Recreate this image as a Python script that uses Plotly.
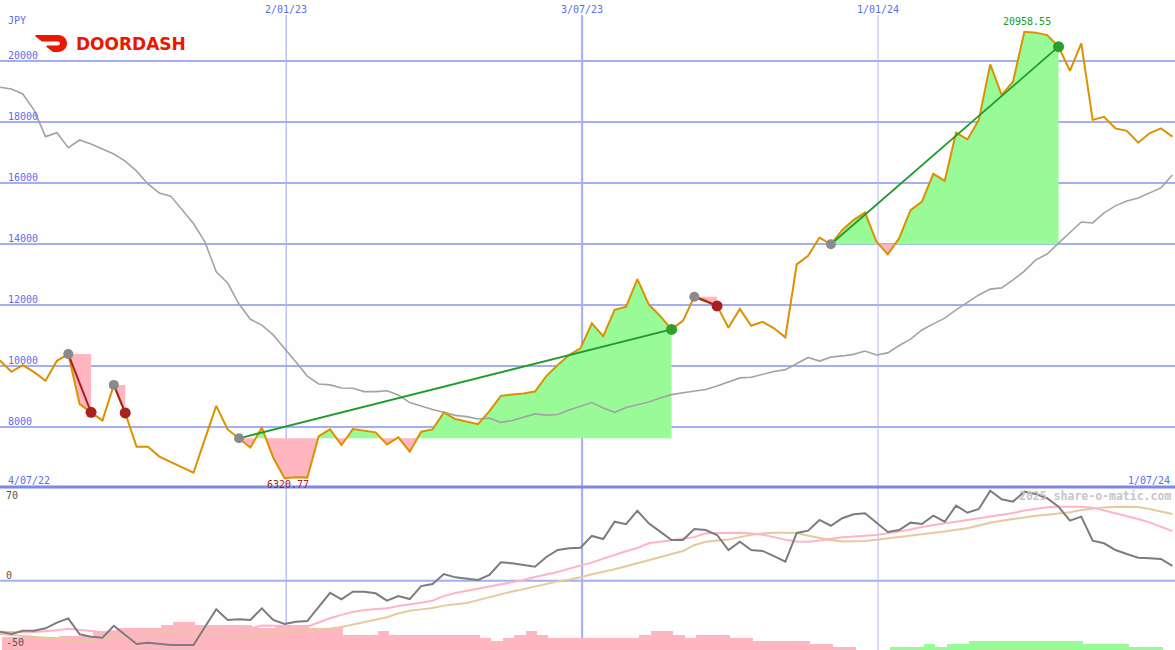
import numpy as np
import pandas as pd
import plotly.graph_objects as go

# ---------------- data ----------------
start_date = "2022-07-10"
n_weeks = 104

price = [
    10180, 9810, 10030, 9800, 9517, 10170, 10390, 8750, 8480, 8210,
    9380, 8460, 7350, 7350, 7030, 6860, 6690, 6500, 7600, 8690,
    7920, 7630, 7330, 7980, 7000, 6320.77, 6350, 6340, 7700, 7920,
    7410, 7930, 7870, 7825, 7430, 7660, 7190, 7845, 7920, 8480,
    8260, 8180, 8090, 8520, 9020, 9065, 9100, 9160, 9670, 10030,
    10360, 10580, 11400, 10980, 11840, 11940, 12850, 12020, 11640, 11200,
    11480, 12270, 12160, 11970, 11255, 11870, 11320, 11450, 11235, 10940,
    13330, 13610, 14210, 13990, 14460, 14790, 15030, 14080, 13660, 14190,
    15110, 15390, 16300, 16070, 17650, 17430, 18070, 19890, 18890, 19320,
    20958.55, 20930, 20850, 20470, 19680, 20580, 18070, 18170, 17790, 17710,
    17320, 17630, 17790, 17520,
]

moving_avg = [
    19140, 19080, 18920, 18390, 17520, 17650, 17160, 17410, 17280, 17110,
    16950, 16720, 16390, 15970, 15670, 15570, 15110, 14670, 14070, 13090,
    12720, 12030, 11530, 11340, 11020, 10590, 10130, 9670, 9410, 9380,
    9280, 9270, 9160, 9160, 9190, 9050, 8800, 8690, 8570, 8480,
    8380, 8340, 8260, 8290, 8150, 8210, 8330, 8430, 8390, 8410,
    8560, 8670, 8800, 8620, 8480, 8640, 8740, 8820, 8950, 9060,
    9120, 9180, 9230, 9340, 9470, 9610, 9630, 9720, 9820, 9880,
    10070, 10280, 10160, 10290, 10330, 10380, 10490, 10360, 10430, 10670,
    10880, 11180, 11380, 11570, 11840, 12100, 12330, 12520, 12560, 12820,
    13110, 13480, 13670, 14030, 14390, 14720, 14690, 15020, 15250, 15410,
    15510, 15670, 15840, 16260,
]

oscillator = [
    -38.1, -39.8, -37.3, -37.3, -35.5, -31.3, -28.1, -40.0, -41.8, -42.5,
    -33.6, -40.5, -47.2, -46.3, -47.2, -48.0, -48.0, -48.0, -34.6, -21.3,
    -29.3, -28.8, -29.3, -20.6, -29.3, -32.3, -30.6, -30.1, -19.6, -9.0,
    -13.9, -8.2, -8.2, -9.4, -14.9, -11.4, -13.7, -4.0, -2.5, 5.0,
    2.5, 1.3, 0.5, 4.3, 13.7, 13.0, 11.7, 10.4, 17.7, 22.9,
    24.2, 24.6, 33.4, 31.1, 44.0, 42.1, 52.2, 42.8, 36.6, 30.4,
    30.4, 38.6, 37.8, 34.1, 22.9, 29.1, 22.9, 22.2, 18.4, 14.2,
    35.6, 37.3, 45.3, 41.0, 46.6, 49.6, 50.3, 43.3, 36.3, 37.8,
    43.3, 42.3, 48.5, 44.0, 56.0, 50.7, 53.5, 67.2, 60.7, 59.0,
    66.4, 64.7, 61.5, 55.2, 44.8, 47.8, 29.9, 27.9, 22.9, 19.9,
    17.2, 16.7, 16.2, 11.0,
]

signal_fast = [
    -38.0, -38.5, -38.5, -38.3, -37.8, -37.0, -35.8, -36.5, -37.5, -38.5,
    -37.8, -38.3, -40.0, -41.2, -42.4, -43.5, -44.4, -45.1, -43.0, -39.6,
    -37.5, -36.0, -35.5, -33.5, -33.5, -34.0, -34.0, -34.3, -31.0, -28.0,
    -25.5, -23.3, -21.8, -21.0, -20.6, -18.9, -17.8, -16.5, -14.9, -11.5,
    -9.2, -7.5, -5.8, -4.2, -2.7, -1.2, 0.5, 2.8, 4.5, 6.5,
    9.0, 11.0, 13.5, 16.5, 19.5, 22.0, 24.4, 27.9, 29.0, 30.0,
    31.0, 32.5, 35.4, 35.4, 35.4, 35.8, 35.2, 34.3, 32.5, 30.5,
    29.2, 29.1, 30.0, 31.2, 32.4, 33.0, 33.6, 34.1, 35.3, 36.6,
    38.2, 40.0, 41.6, 42.8, 44.0, 45.3, 46.5, 47.8, 49.0, 50.5,
    52.3, 53.6, 54.8, 55.2, 55.2, 55.2, 54.5, 52.5, 50.5, 48.5,
    46.0, 43.5, 40.5, 37.0,
]

signal_slow = [
    -39.8, -40.6, -41.4, -42.1, -42.8, -43.4, -44.0, -44.6, -44.8, -43.5,
    -41.8, -40.8, -40.2, -39.9, -39.5, -38.2, -38.6, -39.2, -39.6, -40.2,
    -40.9, -41.2, -41.0, -40.4, -39.8, -39.0, -37.2, -36.7, -36.3, -35.6,
    -34.5, -32.8, -30.6, -29.3, -27.2, -24.4, -22.5, -21.4, -20.4, -18.6,
    -17.6, -16.6, -14.5, -12.2, -10.0, -8.0, -6.3, -4.3, -2.5, -0.5,
    0.8, 2.5, 4.8, 6.5, 8.6, 10.8, 13.0, 15.5, 17.8, 20.0,
    22.2, 26.5, 29.0, 30.0, 30.7, 32.5, 34.3, 35.2, 35.8, 35.8,
    35.5, 33.5, 31.7, 30.3, 29.2, 29.3, 29.7, 30.5, 31.5, 32.4,
    33.4, 34.4, 35.4, 36.7, 38.0, 39.2, 41.2, 43.3, 44.7, 46.0,
    47.5, 48.5, 49.2, 50.0, 51.0, 52.8, 54.0, 54.7, 55.2, 55.2,
    55.0, 53.5, 51.5, 49.7,
]

histogram = [
    -9.7, -9.7, -9.7, -9.7, -9.7, -10.4, -10.4, -10.4, -14.2, -14.2,
    -16.4, -16.4, -16.4, -16.4, -18.7, -20.9, -20.9, -18.7, -18.7, -18.7,
    -18.7, -18.7, -16.4, -16.4, -18.7, -18.7, -18.7, -16.4, -16.4, -16.4,
    -11.2, -11.2, -11.2, -14.2, -11.2, -11.2, -11.2, -11.2, -11.2, -11.2,
    -11.2, -11.2, -9.2, -6.7, -9.2, -11.2, -14.2, -11.2, -9.2, -9.2,
    -9.2, -9.2, -9.2, -9.2, -9.2, -9.2, -11.2, -14.2, -14.2, -11.2,
    -9.2, -11.2, -11.2, -11.2, -9.2, -9.2, -6.7, -6.7, -6.7, -6.7,
    -6.7, -4.5, -4.5, -2.5, -2.5, 0, 0, 0, 2.5, 2.5,
    2.5, 4.5, 2.5, 4.5, 4.5, 6.7, 6.7, 6.7, 6.7, 6.7,
    6.7, 6.7, 6.7, 6.7, 6.7, 4.5, 4.5, 4.5, 4.5, 2.5,
    2.5, 2.5, 0, 0,
]

# trend segments (week indices)
trend_start = [6, 10, 21, 61, 73]
trend_end = [8, 11, 59, 63, 93]
trend_dir = ["down", "down", "up", "down", "up"]

price_ticks = [8000, 10000, 12000, 14000, 16000, 18000, 20000]
osc_ticks = [70, 0, -50]
osc_grid = [0]
date_ticks = ["2023-01-02", "2023-07-03", "2024-01-01"]
date_tick_text = ["2/01/23", "3/07/23", "1/01/24"]
date_tick_width = [1.2, 2, 1]
date_tick_color = ["#a9b1f2", "#a3adf0", "#b4b8e6"]
first_label = "4/07/22"
last_label = "1/07/24"
currency = "JPY"
company = "DOORDASH"
watermark = "2025 share-o-matic.com"

for arr in (price, moving_avg, oscillator, signal_fast, signal_slow, histogram):
    assert len(arr) == n_weeks, len(arr)

# ---------------- style ----------------
W, H = 1175, 650
SPLIT_PX = 487
split = (H - SPLIT_PX) / H
BG = "#fdfefd"
GRID = "#a5aff0"
SEP = "#7c88ec"
BLUE_TXT = "#5b6ef0"
ORANGE = "#dc9100"
MA_GRAY = "#a3a3a3"
GREEN_FILL = "#98fb98"
PINK_FILL = "#ffb6c1"
GREEN_LINE = "#22992b"
RED_LINE = "#a52222"
MONO = "DejaVu Sans Mono"

dates = pd.date_range(start_date, periods=n_weeks, freq="7D")
x_range = [pd.Timestamp("2022-07-10"), pd.Timestamp("2022-07-10") + pd.Timedelta(days=W / 1.626)]
y_range = [6032, 22000]
y2_range = [-51.7, 69.9]

fig = go.Figure()


def band(idx0, idx1, base):
    xs_ns = dates.asi8[idx0:idx1 + 1].astype(float)
    ys = price[idx0:idx1 + 1]
    ox, oy = [xs_ns[0]], [ys[0]]
    for k in range(1, len(ys)):
        d0, d1 = ys[k - 1] - base, ys[k] - base
        if d0 * d1 < 0:
            t = d0 / (d0 - d1)
            ox.append(xs_ns[k - 1] + t * (xs_ns[k] - xs_ns[k - 1]))
            oy.append(base)
        ox.append(xs_ns[k])
        oy.append(ys[k])
    ox = pd.to_datetime(np.array(ox).astype("int64"))
    up = [max(v, base) for v in oy]
    lo = [min(v, base) for v in oy]
    return ox, up, lo


# fills
for s, e, d in zip(trend_start, trend_end, trend_dir):
    base = price[s]
    bx, up, lo = band(s, e, base)
    basel = [base] * len(bx)
    for vals, col in ((up, GREEN_FILL), (lo, PINK_FILL)):
        fig.add_trace(go.Scatter(x=bx, y=basel, mode="lines", line=dict(width=0),
                                 hoverinfo="skip", showlegend=False))
        fig.add_trace(go.Scatter(x=bx, y=vals, mode="lines", line=dict(width=0),
                                 fill="tonexty", fillcolor=col, hoverinfo="skip",
                                 showlegend=False))

# moving average and price
fig.add_trace(go.Scatter(x=dates, y=moving_avg, mode="lines",
                         line=dict(color=MA_GRAY, width=1.6), showlegend=False))
fig.add_trace(go.Scatter(x=dates, y=price, mode="lines",
                         line=dict(color=ORANGE, width=2), showlegend=False))

# trend lines and markers
for s, e, d in zip(trend_start, trend_end, trend_dir):
    col = GREEN_LINE if d == "up" else RED_LINE
    fig.add_trace(go.Scatter(x=[dates[s], dates[e]], y=[price[s], price[e]], mode="lines",
                             line=dict(color=col, width=2 if d == "down" else 1.8),
                             showlegend=False))
for s, e, d in zip(trend_start, trend_end, trend_dir):
    fig.add_trace(go.Scatter(x=[dates[s]], y=[price[s]], mode="markers",
                             marker=dict(color="#8a8a8a", size=10), showlegend=False))
    fig.add_trace(go.Scatter(x=[dates[e]], y=[price[e]], mode="markers",
                             marker=dict(color="#2aa02a" if d == "up" else "#a82020", size=11),
                             showlegend=False))

# bottom panel
hist_abs = [abs(v) for v in histogram]
hist_col = [PINK_FILL if v < 0 else GREEN_FILL for v in histogram]
fig.add_trace(go.Bar(x=dates + pd.Timedelta(days=4.7), y=hist_abs, base=y2_range[0],
                     width=7 * 24 * 3600 * 1000, marker=dict(color=hist_col, line=dict(width=0)),
                     yaxis="y2", showlegend=False))
fig.add_trace(go.Scatter(x=dates, y=signal_slow, mode="lines", yaxis="y2",
                         line=dict(color="#e6c99c", width=2), showlegend=False))
fig.add_trace(go.Scatter(x=dates, y=signal_fast, mode="lines", yaxis="y2",
                         line=dict(color="#ffb3c6", width=2), showlegend=False))
fig.add_trace(go.Scatter(x=dates, y=oscillator, mode="lines", yaxis="y2",
                         line=dict(color="#7c7c7c", width=2), showlegend=False))

# shapes
shapes = []
for v in price_ticks:
    shapes.append(dict(type="line", xref="paper", x0=0, x1=1, yref="y", y0=v, y1=v,
                       line=dict(color=GRID, width=2), layer="below"))
for v in osc_grid:
    shapes.append(dict(type="line", xref="paper", x0=0, x1=1, yref="y2", y0=v, y1=v,
                       line=dict(color=GRID, width=2), layer="below"))
for dt, wdt, col in zip(date_ticks, date_tick_width, date_tick_color):
    shapes.append(dict(type="line", xref="x", x0=dt, x1=dt, yref="paper", y0=0, y1=1 - 15 / H,
                       line=dict(color=col, width=wdt), layer="below"))
shapes.append(dict(type="line", xref="paper", x0=0, x1=1, yref="paper", y0=split, y1=split,
                   line=dict(color=SEP, width=3), layer="above"))


# DoorDash logo icon (decorative)
def px(u, v):
    return (35 + u * 32 / 99.5) / W, 1 - (35 + v * 17 / 56.5) / H


logo_pts = [
    ("M", [(2.4, 0)]), ("L", [(73, 0)]),
    ("C", [(88, 0), (99.5, 13), (99.5, 28.3)]),
    ("C", [(99.5, 44), (87, 56.5), (71.4, 56.5)]),
    ("L", [(55.8, 56.5)]), ("L", [(35.2, 38.9)]), ("L", [(36.9, 34.7)]), ("L", [(71.2, 34.7)]),
    ("C", [(75, 34.7), (77.7, 31.8), (77.7, 28.3)]),
    ("C", [(77.7, 24.7), (74.8, 21.8), (71.2, 21.8)]),
    ("L", [(21.3, 21.8)]), ("L", [(0.7, 4.2)]),
]
path = ""
for cmd, pts in logo_pts:
    path += cmd + " ".join("%.5f,%.5f" % px(u, v) for u, v in pts) + " "
path += "Z"
shapes.append(dict(type="path", xref="paper", yref="paper", path=path,
                   fillcolor="#eb1700", line=dict(width=0), layer="above"))

# annotations
ann = []
for v in price_ticks:
    ann.append(dict(x=6 / W, xref="paper", xanchor="left", y=v, yref="y", yanchor="bottom",
                    yshift=-2, text=str(v), showarrow=False,
                    font=dict(family=MONO, size=10, color=BLUE_TXT)))
ann.append(dict(x=6 / W, xref="paper", xanchor="left", y=1 - 20 / H, yref="paper",
                yanchor="middle", text=currency, showarrow=False,
                font=dict(family=MONO, size=10, color=BLUE_TXT)))
for v in osc_ticks:
    if v == max(osc_ticks):
        ann.append(dict(x=4 / W, xref="paper", xanchor="left", y=split, yref="paper",
                        yanchor="top", yshift=-1, text=str(v), showarrow=False,
                        font=dict(family=MONO, size=10, color="#555555")))
    else:
        ann.append(dict(x=4 / W, xref="paper", xanchor="left", y=v, yref="y2", yanchor="bottom",
                        yshift=-2, text=str(v), showarrow=False,
                        font=dict(family=MONO, size=10, color="#555555")))
for dt, txt in zip(date_ticks, date_tick_text):
    ann.append(dict(x=dt, xref="x", xanchor="center", y=1, yref="paper", yanchor="top",
                    yshift=-2, text=txt, showarrow=False,
                    font=dict(family=MONO, size=10, color=BLUE_TXT)))
ann.append(dict(x=6 / W, xref="paper", xanchor="left", y=split, yref="paper", yanchor="bottom",
                yshift=-1, text=first_label, showarrow=False,
                font=dict(family=MONO, size=10, color=BLUE_TXT)))
ann.append(dict(x=1 - 3 / W, xref="paper", xanchor="right", y=split, yref="paper",
                yanchor="bottom", yshift=-1, text=last_label, showarrow=False,
                font=dict(family=MONO, size=10, color=BLUE_TXT)))
imax = int(np.argmax(price))
imin = int(np.argmin(price))
ann.append(dict(x=dates[imax], y=price[imax], xref="x", yref="y", yanchor="bottom", yshift=3,
                xshift=3, text="%.2f" % price[imax], showarrow=False,
                font=dict(family=MONO, size=10, color="#229922")))
ann.append(dict(x=dates[imin], y=price[imin], xref="x", yref="y", yanchor="top", yshift=1,
                xshift=3, text="%.2f" % price[imin], showarrow=False,
                font=dict(family=MONO, size=10, color="#a52222")))
ann.append(dict(x=1 - 2 / W, xref="paper", xanchor="right", y=1 - 496 / H, yref="paper",
                yanchor="middle", text="<b>%s</b>" % watermark, showarrow=False,
                font=dict(family=MONO, size=11.5, color="#c6c6c6")))
ann.append(dict(x=74 / W, xref="paper", xanchor="left", y=1 - 44 / H, yref="paper",
                yanchor="middle", text="<b>%s</b>" % company, showarrow=False,
                font=dict(family="DejaVu Sans", size=17, color="#eb1700")))

fig.update_layout(
    width=W, height=H,
    margin=dict(l=0, r=0, t=0, b=0),
    paper_bgcolor=BG, plot_bgcolor=BG,
    showlegend=False,
    bargap=0,
    hovermode=False,
    xaxis=dict(range=x_range, visible=False, showgrid=False, zeroline=False),
    yaxis=dict(domain=[split, 1], range=y_range, visible=False, showgrid=False, zeroline=False),
    yaxis2=dict(domain=[0, split], range=y2_range, visible=False, showgrid=False,
                zeroline=False, anchor="x"),
    shapes=shapes,
    annotations=ann,
)

fig.write_html(
    "out.html",
    config={"displayModeBar": False, "staticPlot": True},
    post_script="document.body.style.margin='0';document.body.style.padding='0';"
                "document.body.style.overflow='hidden';",
)
